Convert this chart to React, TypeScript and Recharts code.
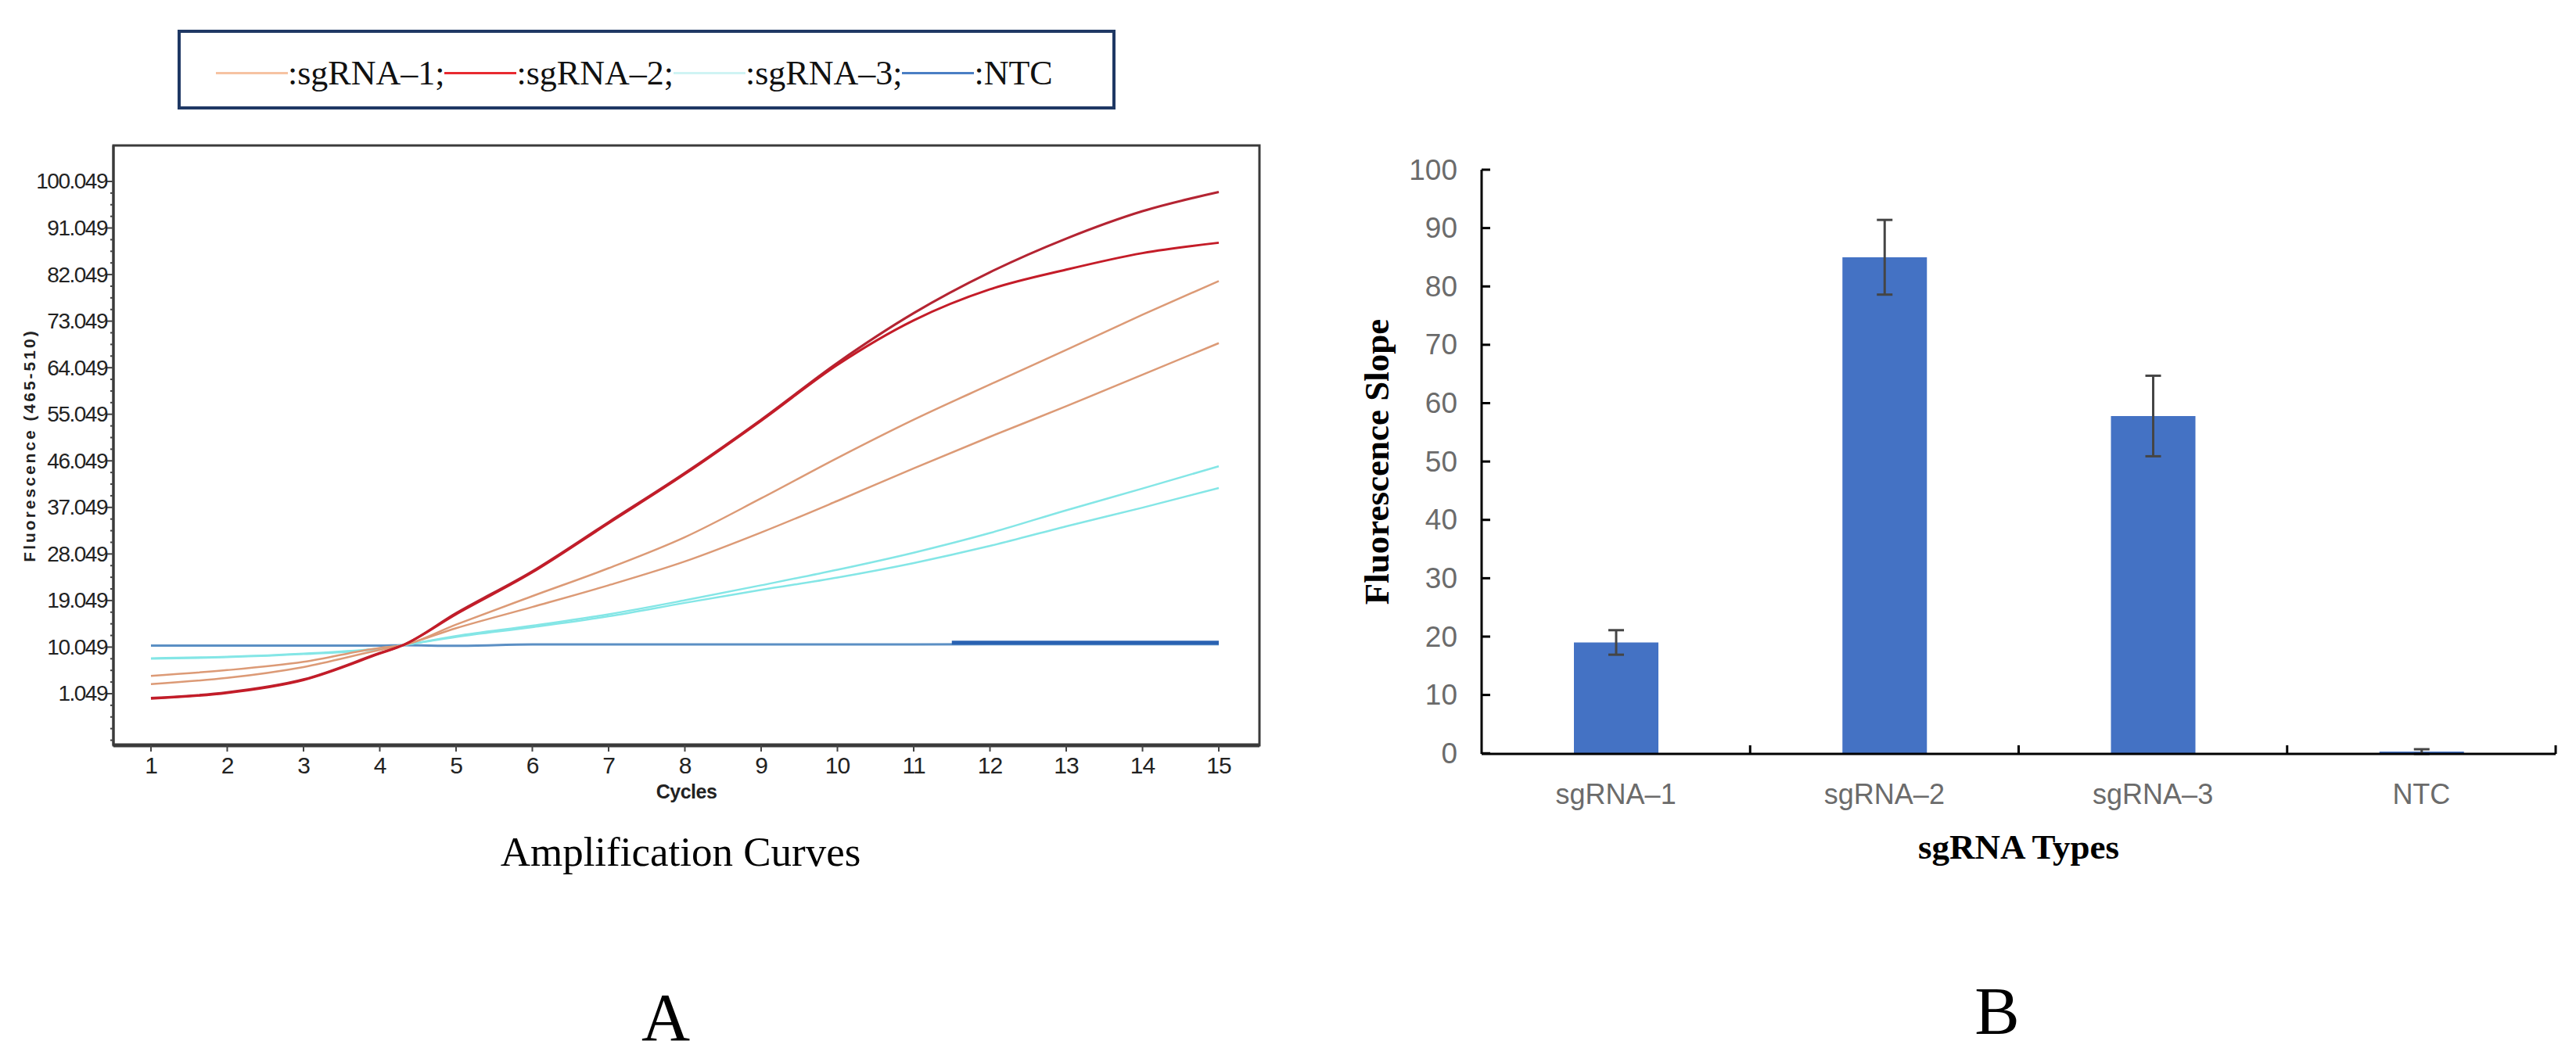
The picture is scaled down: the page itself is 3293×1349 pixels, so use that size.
import React from "react";
import {
  LineChart,
  Line,
  BarChart,
  Bar,
  ErrorBar,
  XAxis,
  YAxis,
  Legend,
  ReferenceArea,
  Label,
} from "recharts";

// ---- panel A: amplification curves ----
const cycles = [1, 2, 3, 4, 4.3, 5, 6, 7, 8, 9, 10, 11, 12, 13, 14, 15];
const sg1a = [4.5, 5.6, 7.2, 9.9, 10.4, 14.4, 19.9, 25.3, 31.3, 38.8, 46.6, 54.0, 60.8, 67.5, 74.3, 80.8];
const sg1b = [2.9, 4.1, 6.2, 9.5, 10.4, 13.7, 17.8, 22.0, 26.6, 32.2, 38.3, 44.6, 50.7, 56.6, 62.7, 68.8];
const sg2a = [0.2, 1.3, 3.8, 8.9, 10.4, 16.6, 24.7, 34.2, 43.7, 54.0, 65.0, 74.6, 82.5, 89.0, 94.3, 98.0];
const sg2b = [0.1, 1.2, 3.7, 8.8, 10.4, 16.4, 24.5, 34.0, 43.5, 53.8, 64.6, 73.2, 79.2, 83.0, 86.2, 88.2];
const sg3a = [7.9, 8.2, 8.8, 9.8, 10.4, 12.2, 14.2, 16.4, 19.1, 22.0, 25.0, 28.3, 32.1, 36.5, 40.7, 45.0];
const sg3b = [7.8, 8.1, 8.7, 9.7, 10.4, 12.0, 13.9, 16.0, 18.6, 21.1, 23.5, 26.3, 29.6, 33.4, 37.0, 40.8];
const ntc = [10.35, 10.35, 10.35, 10.35, 10.4, 10.3, 10.55, 10.55, 10.55, 10.55, 10.55, 10.55, 10.6, 10.6, 10.6, 10.6];
const ntcDarkCycles = [11.5, 15];
const ntcDark = [10.9, 10.9];

const xTicks = [1, 2, 3, 4, 5, 6, 7, 8, 9, 10, 11, 12, 13, 14, 15];
const yMajorTicks = [1.049, 10.049, 19.049, 28.049, 37.049, 46.049, 55.049, 64.049, 73.049, 82.049, 91.049, 100.049];

const legendItems = [
  { label: ":sgRNA–1;", color: "#f6c3a2" },
  { label: ":sgRNA–2;", color: "#e82a30" },
  { label: ":sgRNA–3;", color: "#cff4f4" },
  { label: ":NTC", color: "#4a7ec4" },
];

// ---- panel B: fluorescence slope ----
const categories = ["sgRNA–1", "sgRNA–2", "sgRNA–3", "NTC"];
const slopes = [19, 85, 57.8, 0.3];
const slopeErrors = [2.1, 6.4, 6.9, 0.4];
const yBarTicks = [0, 10, 20, 30, 40, 50, 60, 70, 80, 90, 100];

const curveRows = cycles.map((c, i) => ({
  cycle: c,
  sg1a: sg1a[i],
  sg1b: sg1b[i],
  sg2a: sg2a[i],
  sg2b: sg2b[i],
  sg3a: sg3a[i],
  sg3b: sg3b[i],
  ntc: ntc[i],
}));
const ntcDarkRows = ntcDarkCycles.map((c, i) => ({ cycle: c, ntc: ntcDark[i] }));
const barRows = categories.map((name, i) => ({ name, slope: slopes[i], err: slopeErrors[i] }));

// y ticks every quarter of a major step, major ones get labels
const yDomain = [-8.93, 107.0];
const allYTicks: number[] = [];
for (let k = -4; k <= 44; k++) allYTicks.push(1.049 + 2.25 * k);

const SERIF = "'Liberation Serif', 'Times New Roman', serif";
const SANS = "'Liberation Sans', Arial, sans-serif";

const LeftYTick = (props: any) => {
  const { x, y, payload } = props;
  const isMajor = yMajorTicks.some((t) => Math.abs(t - payload.value) < 0.01);
  if (!isMajor) {
    return <line x1={x - 4} x2={x} y1={y} y2={y} stroke="#444" strokeWidth={2} />;
  }
  return (
    <g>
      <line x1={x - 8} x2={x} y1={y} y2={y} stroke="#444" strokeWidth={2} />
      <text
        x={x - 8}
        y={y}
        textAnchor="end"
        dominantBaseline="central"
        fontFamily={SANS}
        fontSize={28}
        letterSpacing={-1.5}
        fill="#222"
      >
        {payload.value.toFixed(3)}
      </text>
    </g>
  );
};

const LeftXTick = (props: any) => {
  const { x, y, payload } = props;
  return (
    <g>
      <line x1={x} x2={x} y1={y} y2={y + 8} stroke="#444" strokeWidth={2} />
      <text
        x={x}
        y={y + 25}
        textAnchor="middle"
        dominantBaseline="central"
        fontFamily={SANS}
        fontSize={30}
        letterSpacing={-1}
        fill="#222"
      >
        {payload.value}
      </text>
    </g>
  );
};

const renderLegend = () => (
  <div
    style={{
      boxSizing: "border-box",
      width: "100%",
      height: "100%",
      border: "4px solid #1f3864",
      background: "#fff",
      display: "flex",
      alignItems: "center",
      paddingLeft: 45,
      paddingTop: 8,
    }}
  >
    {legendItems.map((it) => (
      <div key={it.label} style={{ display: "flex", alignItems: "center" }}>
        <div style={{ width: 92, height: 3, background: it.color }} />
        <span style={{ fontFamily: SERIF, fontSize: 44, color: "#111", whiteSpace: "nowrap" }}>
          {it.label}
        </span>
      </div>
    ))}
  </div>
);

const BAR_PLOT_W = 1643 - 244 - 26;
const BAND = BAR_PLOT_W / categories.length;

const BarYTick = (props: any) => {
  const { x, y, payload } = props;
  return (
    <g>
      <line x1={x} x2={x + 11} y1={y} y2={y} stroke="#000" strokeWidth={3} />
      <text
        x={x - 31}
        y={y}
        textAnchor="end"
        dominantBaseline="central"
        fontFamily={SANS}
        fontSize={37}
        fill="#6b6b6b"
      >
        {payload.value}
      </text>
    </g>
  );
};

const BarXTick = (props: any) => {
  const { x, y, payload } = props;
  return (
    <g>
      <line x1={x + BAND / 2} x2={x + BAND / 2} y1={y} y2={y - 11} stroke="#000" strokeWidth={3} />
      <text
        x={x}
        y={y + 51}
        textAnchor="middle"
        dominantBaseline="central"
        fontFamily={SANS}
        fontSize={36}
        fill="#6b6b6b"
      >
        {payload.value}
      </text>
    </g>
  );
};

export default function App() {
  return (
    <div style={{ position: "absolute", left: 0, top: 0, width: 3293, height: 1349, background: "#fff" }}>
      <div style={{ position: "absolute", left: 0, top: 0 }}>
        <LineChart width={1650} height={1349} data={curveRows} margin={{ top: 186, right: 40, bottom: 0, left: 0 }}>
          <XAxis
            dataKey="cycle"
            type="number"
            domain={[0.508, 15.533]}
            allowDataOverflow
            ticks={xTicks}
            interval={0}
            height={396}
            tickSize={0}
            tickMargin={0}
            tickLine={false}
            tick={<LeftXTick />}
            axisLine={{ stroke: "#3a3a3a", strokeWidth: 5 }}
          >
            <Label
              content={({ viewBox }: any) => (
                <text
                  x={viewBox.x + viewBox.width / 2}
                  y={viewBox.y + 59}
                  textAnchor="middle"
                  dominantBaseline="central"
                  fontFamily={SANS}
                  fontWeight="bold"
                  fontSize={25}
                  letterSpacing={-0.5}
                  fill="#222"
                >
                  Cycles
                </text>
              )}
            />
          </XAxis>
          <YAxis
            type="number"
            domain={yDomain}
            allowDataOverflow
            ticks={allYTicks}
            interval={0}
            width={145}
            tickSize={0}
            tickMargin={0}
            tickLine={false}
            tick={<LeftYTick />}
            axisLine={{ stroke: "#3a3a3a", strokeWidth: 3 }}
          >
            <Label
              content={({ viewBox }: any) => {
                const cx = 37;
                const cy = viewBox.y + viewBox.height / 2;
                return (
                  <text
                    x={cx}
                    y={cy}
                    transform={`rotate(-90 ${cx} ${cy})`}
                    textAnchor="middle"
                    dominantBaseline="central"
                    fontFamily={SANS}
                    fontWeight="bold"
                    fontSize={21}
                    letterSpacing={3}
                    fill="#222"
                  >
                    Fluorescence (465-510)
                  </text>
                );
              }}
            />
          </YAxis>
          <ReferenceArea
            x1={0.508}
            x2={15.533}
            y1={yDomain[0]}
            y2={yDomain[1]}
            fill="none"
            stroke="#3a3a3a"
            strokeWidth={3}
          />
          <Legend
            layout="horizontal"
            verticalAlign="middle"
            align="center"
            content={renderLegend}
            wrapperStyle={{ position: "absolute", top: 38, left: 227, width: 1199, height: 102 }}
          />
          <Line dataKey="ntc" type="monotone" stroke="#5b8fc4" strokeWidth={3} dot={false} isAnimationActive={false} legendType="none" />
          <Line data={ntcDarkRows} dataKey="ntc" type="linear" stroke="#2a62b2" strokeWidth={5} dot={false} isAnimationActive={false} legendType="none" />
          <Line dataKey="sg3a" type="monotone" stroke="#84e6e6" strokeWidth={2.5} dot={false} isAnimationActive={false} legendType="none" />
          <Line dataKey="sg3b" type="monotone" stroke="#84e6e6" strokeWidth={2.5} dot={false} isAnimationActive={false} legendType="none" />
          <Line dataKey="sg1a" type="monotone" stroke="#dc9a76" strokeWidth={2.5} dot={false} isAnimationActive={false} legendType="none" />
          <Line dataKey="sg1b" type="monotone" stroke="#dc9a76" strokeWidth={2.5} dot={false} isAnimationActive={false} legendType="none" />
          <Line dataKey="sg2a" type="monotone" stroke="#b42432" strokeWidth={3} dot={false} isAnimationActive={false} legendType="none" />
          <Line dataKey="sg2b" type="monotone" stroke="#c41c28" strokeWidth={3} dot={false} isAnimationActive={false} legendType="none" />
        </LineChart>
      </div>

      <div style={{ position: "absolute", left: 1650, top: 0 }}>
        <BarChart width={1643} height={1349} data={barRows} margin={{ top: 217, right: 26, bottom: 0, left: 0 }}>
          <XAxis
            dataKey="name"
            height={385}
            interval={0}
            tickSize={0}
            tickMargin={0}
            tickLine={false}
            tick={<BarXTick />}
            axisLine={{ stroke: "#000", strokeWidth: 3 }}
          >
            <Label
              content={({ viewBox }: any) => (
                <text
                  x={viewBox.x + viewBox.width / 2}
                  y={viewBox.y + 119}
                  textAnchor="middle"
                  dominantBaseline="central"
                  fontFamily={SERIF}
                  fontWeight="bold"
                  fontSize={45}
                  fill="#000"
                >
                  sgRNA Types
                </text>
              )}
            />
          </XAxis>
          <YAxis
            type="number"
            domain={[0, 100]}
            ticks={yBarTicks}
            interval={0}
            width={244}
            tickSize={0}
            tickMargin={0}
            tickLine={false}
            tick={<BarYTick />}
            axisLine={{ stroke: "#000", strokeWidth: 3 }}
          >
            <Label
              content={({ viewBox }: any) => {
                const cx = 110;
                const cy = viewBox.y + viewBox.height / 2;
                return (
                  <text
                    x={cx}
                    y={cy}
                    transform={`rotate(-90 ${cx} ${cy})`}
                    textAnchor="middle"
                    dominantBaseline="central"
                    fontFamily={SERIF}
                    fontWeight="bold"
                    fontSize={45}
                    fill="#000"
                  >
                    Fluorescence Slope
                  </text>
                );
              }}
            />
          </YAxis>
          <Bar dataKey="slope" fill="#4472c4" barSize={108} isAnimationActive={false}>
            <ErrorBar dataKey="err" direction="y" width={10} strokeWidth={3} stroke="#454545" isAnimationActive={false} />
          </Bar>
        </BarChart>
      </div>

      <svg width={3293} height={1349} style={{ position: "absolute", left: 0, top: 0, pointerEvents: "none" }}>
        <text x={870} y={1107} textAnchor="middle" fontFamily={SERIF} fontSize={53} fill="#000">
          Amplification Curves
        </text>
        <text x={851} y={1330} textAnchor="middle" fontFamily={SERIF} fontSize={86} fill="#000">
          A
        </text>
        <text x={2553} y={1322} textAnchor="middle" fontFamily={SERIF} fontSize={86} fill="#000">
          B
        </text>
      </svg>
    </div>
  );
}
